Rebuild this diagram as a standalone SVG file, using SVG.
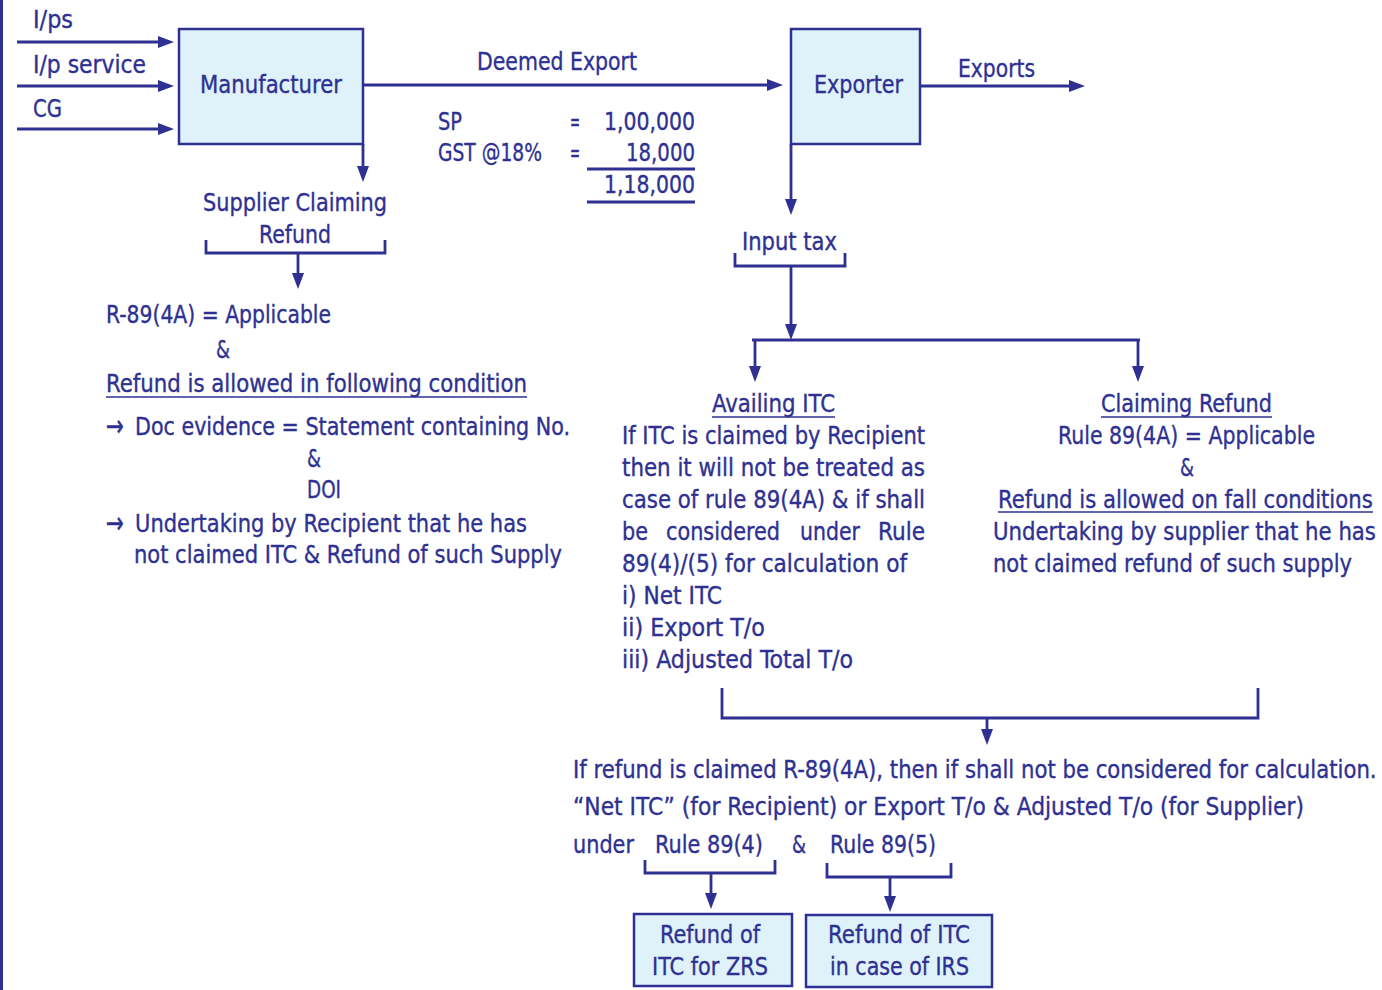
<svg xmlns="http://www.w3.org/2000/svg" width="1382" height="990" viewBox="0 0 1382 990">
  <defs>
    <marker id="arrow" viewBox="0 0 16 12" markerWidth="16" markerHeight="12" refX="6" refY="6" orient="auto" markerUnits="userSpaceOnUse">
      <path d="M0,0 L16,6 L0,12 Z" fill="#2e3192"/>
    </marker>
    <style>
      text { font-family: "DejaVu Sans Condensed", "DejaVu Sans", "Liberation Sans", sans-serif; font-size: 25px; fill: #2e3192; stroke: #2e3192; stroke-width: 0.35; }
      .bullet { font-size: 30px; }
      .box { fill: #dff2fa; stroke: #2e3192; stroke-width: 2.5; }
      .ln { fill: none; stroke: #2e3192; stroke-width: 2.8; }
      .arr { fill: none; stroke: #2e3192; stroke-width: 2.8; marker-end: url(#arrow); }
      .ul { stroke: #2e3192; stroke-width: 1.6; }
    </style>
  </defs>

  <rect width="1382" height="990" fill="#ffffff"/>
  <!-- page border on the left -->
  <line x1="1.5" y1="0" x2="1.5" y2="990" stroke="#2e3192" stroke-width="3"/>

  <!-- connectors -->
  <g id="connectors">
    <!-- inputs into manufacturer -->
    <path class="arr" d="M17,42 H164"/>
    <path class="arr" d="M17,86 H164"/>
    <path class="arr" d="M17,129 H164"/>
    <!-- manufacturer to supplier claiming refund -->
    <path class="arr" d="M363,144 V172"/>
    <!-- deemed export -->
    <path class="arr" d="M363,85 H773"/>
    <!-- exports -->
    <path class="arr" d="M920,86 H1075"/>
    <!-- exporter to input tax -->
    <path class="arr" d="M791,144 V205"/>
    <!-- supplier claiming refund bracket -->
    <path class="ln" d="M206,240 V253 H385 V240"/>
    <path class="arr" d="M298,253 V279"/>
    <!-- input tax bracket and split -->
    <path class="ln" d="M735,253 V266 H845 V253"/>
    <path class="arr" d="M791,266 V330"/>
    <path class="ln" d="M752,340 H1140"/>
    <path class="arr" d="M755,340 V372"/>
    <path class="arr" d="M1138,340 V372"/>
    <!-- joining bracket -->
    <path class="ln" d="M722,688 V718 H1258 V688"/>
    <path class="arr" d="M987,718 V735"/>
    <!-- rule 89(4) bracket -->
    <path class="ln" d="M645,860 V873 H775 V860"/>
    <path class="arr" d="M711,873 V899"/>
    <!-- rule 89(5) bracket -->
    <path class="ln" d="M827,863 V877 H951 V863"/>
    <path class="arr" d="M890,877 V902"/>
    <!-- totals rules -->
    <line class="ln" x1="587" y1="169" x2="695" y2="169"/>
    <line class="ln" x1="587" y1="202" x2="695" y2="202"/>
  </g>

  <!-- input labels -->
  <g id="inputs">
    <text x="33" y="28" textLength="40" lengthAdjust="spacingAndGlyphs">I/ps</text>
    <text x="33" y="73" textLength="113" lengthAdjust="spacingAndGlyphs">I/p service</text>
    <text x="33" y="117" textLength="29" lengthAdjust="spacingAndGlyphs">CG</text>
  </g>

  <g id="manufacturer">
    <rect class="box" x="179" y="29" width="184" height="115"/>
    <text x="200" y="93" textLength="142" lengthAdjust="spacingAndGlyphs">Manufacturer</text>
  </g>

  <g id="deemed-export">
    <text x="477" y="70" textLength="160" lengthAdjust="spacingAndGlyphs">Deemed Export</text>
    <text x="438" y="130" textLength="24" lengthAdjust="spacingAndGlyphs">SP</text>
    <text x="570" y="130" textLength="10" lengthAdjust="spacingAndGlyphs">=</text>
    <text x="604" y="130" textLength="91" lengthAdjust="spacingAndGlyphs">1,00,000</text>
    <text x="438" y="161" textLength="104" lengthAdjust="spacingAndGlyphs">GST @18%</text>
    <text x="570" y="161" textLength="10" lengthAdjust="spacingAndGlyphs">=</text>
    <text x="626" y="161" textLength="69" lengthAdjust="spacingAndGlyphs">18,000</text>
    <text x="604" y="193" textLength="91" lengthAdjust="spacingAndGlyphs">1,18,000</text>
  </g>

  <g id="exporter">
    <rect class="box" x="791" y="29" width="129" height="115"/>
    <text x="814" y="93" textLength="89" lengthAdjust="spacingAndGlyphs">Exporter</text>
  </g>

  <g id="exports">
    <text x="958" y="77" textLength="77" lengthAdjust="spacingAndGlyphs">Exports</text>
  </g>

  <g id="input-tax">
    <text x="742" y="250" textLength="95" lengthAdjust="spacingAndGlyphs">Input tax</text>
  </g>

  <g id="supplier-claiming-refund">
    <text x="203" y="211" textLength="184" lengthAdjust="spacingAndGlyphs">Supplier Claiming</text>
    <text x="259" y="243" textLength="72" lengthAdjust="spacingAndGlyphs">Refund</text>
  </g>

  <g id="supplier-conditions">
    <text x="106" y="323" textLength="225" lengthAdjust="spacingAndGlyphs">R-89(4A) = Applicable</text>
    <text x="216" y="358" textLength="14" lengthAdjust="spacingAndGlyphs">&amp;</text>
    <text x="106" y="392" textLength="421" lengthAdjust="spacingAndGlyphs">Refund is allowed in following condition</text>
    <line class="ul" x1="106" y1="397" x2="527" y2="397"/>
    <text class="bullet" x="106" y="436" textLength="18" lengthAdjust="spacingAndGlyphs">→</text>
    <text x="135" y="435" textLength="435" lengthAdjust="spacingAndGlyphs">Doc evidence = Statement containing No.</text>
    <text x="307" y="467" textLength="14" lengthAdjust="spacingAndGlyphs">&amp;</text>
    <text x="307" y="498" textLength="34" lengthAdjust="spacingAndGlyphs">DOI</text>
    <text class="bullet" x="106" y="533" textLength="18" lengthAdjust="spacingAndGlyphs">→</text>
    <text x="135" y="532" textLength="392" lengthAdjust="spacingAndGlyphs">Undertaking by Recipient that he has</text>
    <text x="134" y="563" textLength="428" lengthAdjust="spacingAndGlyphs">not claimed ITC &amp; Refund of such Supply</text>
  </g>

  <g id="availing-itc">
    <text x="712" y="412" textLength="123" lengthAdjust="spacingAndGlyphs">Availing ITC</text>
    <line class="ul" x1="712" y1="417" x2="835" y2="417"/>
    <text x="622" y="444" textLength="303" lengthAdjust="spacingAndGlyphs">If ITC is claimed by Recipient</text>
    <text x="622" y="476" textLength="303" lengthAdjust="spacingAndGlyphs">then it will not be treated as</text>
    <text x="622" y="508" textLength="303" lengthAdjust="spacingAndGlyphs">case of rule 89(4A) &amp; if shall</text>
    <text x="622" y="540" textLength="26" lengthAdjust="spacingAndGlyphs">be</text>
    <text x="666" y="540" textLength="114" lengthAdjust="spacingAndGlyphs">considered</text>
    <text x="800" y="540" textLength="60" lengthAdjust="spacingAndGlyphs">under</text>
    <text x="878" y="540" textLength="47" lengthAdjust="spacingAndGlyphs">Rule</text>
    <text x="622" y="572" textLength="285" lengthAdjust="spacingAndGlyphs">89(4)/(5) for calculation of</text>
    <text x="622" y="604" textLength="100" lengthAdjust="spacingAndGlyphs">i) Net ITC</text>
    <text x="622" y="636" textLength="143" lengthAdjust="spacingAndGlyphs">ii) Export T/o</text>
    <text x="622" y="668" textLength="231" lengthAdjust="spacingAndGlyphs">iii) Adjusted Total T/o</text>
  </g>

  <g id="claiming-refund">
    <text x="1101" y="412" textLength="171" lengthAdjust="spacingAndGlyphs">Claiming Refund</text>
    <line class="ul" x1="1101" y1="417" x2="1272" y2="417"/>
    <text x="1058" y="444" textLength="257" lengthAdjust="spacingAndGlyphs">Rule 89(4A) = Applicable</text>
    <text x="1180" y="476" textLength="14" lengthAdjust="spacingAndGlyphs">&amp;</text>
    <!-- long lines near the right edge are narrowed with a horizontal scale -->
    <text transform="translate(998,508) scale(0.82,1)" textLength="457" lengthAdjust="spacingAndGlyphs">Refund is allowed on fall conditions</text>
    <line class="ul" x1="998" y1="512" x2="1373" y2="512"/>
    <text transform="translate(993,540) scale(0.82,1)" textLength="467" lengthAdjust="spacingAndGlyphs">Undertaking by supplier that he has</text>
    <text x="993" y="572" textLength="359" lengthAdjust="spacingAndGlyphs">not claimed refund of such supply</text>
  </g>

  <g id="calculation-note">
    <text transform="translate(573,778) scale(0.82,1)" textLength="980" lengthAdjust="spacingAndGlyphs">If refund is claimed R-89(4A), then if shall not be considered for calculation.</text>
    <text x="573" y="815" textLength="731" lengthAdjust="spacingAndGlyphs">“Net ITC” (for Recipient) or Export T/o &amp; Adjusted T/o (for Supplier)</text>
    <text x="573" y="853" textLength="61" lengthAdjust="spacingAndGlyphs">under</text>
    <text x="655" y="853" textLength="108" lengthAdjust="spacingAndGlyphs">Rule 89(4)</text>
    <text x="792" y="853" textLength="14" lengthAdjust="spacingAndGlyphs">&amp;</text>
    <text x="830" y="853" textLength="106" lengthAdjust="spacingAndGlyphs">Rule 89(5)</text>
  </g>

  <g id="refund-zrs">
    <rect class="box" x="634" y="914" width="158" height="72"/>
    <text x="660" y="943" textLength="100" lengthAdjust="spacingAndGlyphs">Refund of</text>
    <text x="652" y="975" textLength="116" lengthAdjust="spacingAndGlyphs">ITC for ZRS</text>
  </g>

  <g id="refund-irs">
    <rect class="box" x="806" y="915" width="186" height="72"/>
    <text x="828" y="943" textLength="142" lengthAdjust="spacingAndGlyphs">Refund of ITC</text>
    <text x="830" y="975" textLength="139" lengthAdjust="spacingAndGlyphs">in case of IRS</text>
  </g>
</svg>
